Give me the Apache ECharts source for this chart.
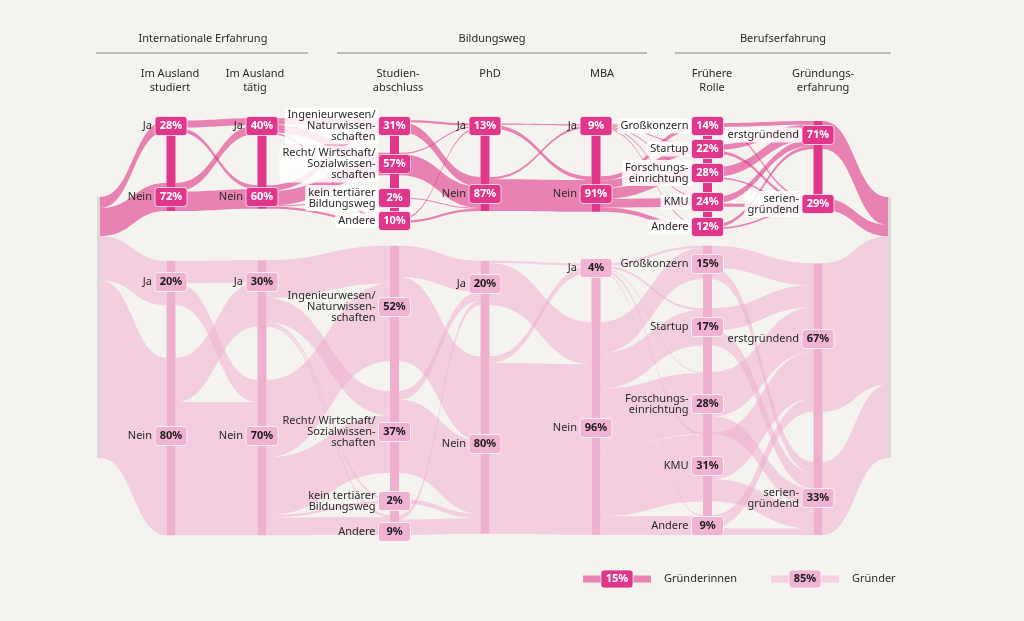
<!DOCTYPE html>
<html><head><meta charset="utf-8">
<script src="https://cdn.jsdelivr.net/npm/echarts@6/dist/echarts.min.js"></script>
<style>html,body{margin:0;padding:0;background:#f5f3f0}#c{width:1024px;height:621px}</style>
</head><body><div id="c"></div>
<script>
// ---------------- DATA ----------------
const groups = ['Gründerinnen', 'Gründer'];
const groupShare = [15, 85];
const groupHeaders = ['Internationale Erfahrung', 'Bildungsweg', 'Berufserfahrung'];
const columnTitles = ['Im Ausland\nstudiert', 'Im Ausland\ntätig', 'Studien-\nabschluss', 'PhD', 'MBA', 'Frühere\nRolle', 'Gründungs-\nerfahrung'];
const categories = [
  ['Ja', 'Nein'],
  ['Ja', 'Nein'],
  ['Ingenieurwesen/\nNaturwissen-\nschaften', 'Recht/ Wirtschaft/\nSozialwissen-\nschaften', 'kein tertiärer\nBildungsweg', 'Andere'],
  ['Ja', 'Nein'],
  ['Ja', 'Nein'],
  ['Großkonzern', 'Startup', 'Forschungs-\neinrichtung', 'KMU', 'Andere'],
  ['erstgründend', 'serien-\ngründend']
];
// shares (% within group) per column
const womenShares = [[28, 72], [40, 60], [31, 57, 2, 10], [13, 87], [9, 91], [14, 22, 28, 24, 12], [71, 29]];
const menShares   = [[20, 80], [30, 70], [52, 37, 2, 9], [20, 80], [4, 96], [15, 17, 28, 31, 9], [67, 33]];
// flows between adjacent columns (% within group), [from][to]
const womenFlows = [
  [[18, 10], [22, 50]],
  [[16, 20, 0, 4], [15, 37, 2, 6]],
  [[6, 25], [3, 54], [0, 2], [4, 6]],
  [[3, 10], [6, 81]],
  [[3, 2, 1, 2, 1], [11, 20, 27, 22, 11]],
  [[9, 5], [14, 8], [24, 4], [16, 8], [8, 4]]
];
const menFlows = [
  [[10, 10], [20, 60]],
  [[17, 11, 1, 1], [35, 26, 1, 8]],
  [[14, 38], [4, 33], [0, 2], [2, 7]],
  [[1, 19], [3, 77]],
  [[1, 1, 0.5, 1, 0.5], [14, 16, 27.5, 30, 8.5]],
  [[10, 5], [10, 7], [20, 8], [21, 10], [6, 3]]
];

// ---------------- LAYOUT (positions / styles) ----------------
const LAYOUT = {
  W: 1024, top: 197, height: 261,
  rootX: 97, endX: 888, greyW: 3, barW: 9,
  colX: [171, 262, 394.5, 485, 596, 707.5, 818],
  titleX: [170, 255, 398, 490, 602, 712, 823],
  nodeY: [
    [[126, 197], [126, 197], [126, 164, 198, 221], [126, 194], [126, 194], [126, 149, 173, 202, 227], [135, 204]],
    [[283, 446.5], [293.5, 457.5], [303.5, 432, 501, 525], [283, 445], [268, 428.5], [262.5, 327, 403, 467, 525], [337.5, 498.5]]
  ],
  labelY: [
    [[126, 197], [126, 197], [126, 164, 198, 221], [126, 194], [126, 194], [126, 149, 173, 202, 227], [135, 204]],
    [[282, 436], [282, 436], [307, 432, 501, 532], [284, 444], [268, 428], [264, 327, 404, 466, 526], [339, 498]]
  ]
};
const STYLE = {
  bg: '#f5f3f0', font: '"Noto Sans", sans-serif', text: '#2a2a2a',
  link: ['#e0378b', '#efafcf'], linkOpacity: [0.6, 0.55],
  bar: ['#e0378b', '#efb0d0'], box: ['#e0378b', '#f1b3d3'], boxText: ['#ffffff', '#1c1c1c'],
  grey: '#d8dbd8', legendBand: ['#e984b5', '#f6d0e1']
};

const shares = [womenShares, menShares];
const flows = [womenFlows, menFlows];
const pxPerPct = LAYOUT.height / 100;
function nodeH(g, c, i) { return shares[g][c][i] * groupShare[g] / 100 * pxPerPct; }
function nid(g, c, i) { return 'g' + g + 'c' + c + 'i' + i; }

// ---------------- SANKEY ----------------
const nodes = [];
nodes.push({ name: 'root', localX: (LAYOUT.rootX + LAYOUT.greyW - LAYOUT.barW) / LAYOUT.W, localY: 0, itemStyle: { opacity: 0 } });
for (let c = 0; c < columnTitles.length; c++) {
  for (let g = 0; g < 2; g++) {
    shares[g][c].forEach((v, i) => {
      const h = nodeH(g, c, i);
      nodes.push({
        name: nid(g, c, i),
        localX: (LAYOUT.colX[c] - LAYOUT.barW / 2) / LAYOUT.W,
        localY: (LAYOUT.nodeY[g][c][i] - h / 2 - LAYOUT.top) / LAYOUT.height,
        itemStyle: { opacity: 0 }
      });
    });
  }
}
nodes.push({ name: 'end', localX: LAYOUT.endX / LAYOUT.W, localY: 0, itemStyle: { opacity: 0 } });

const links = [];
function ls(g) { return { color: STYLE.link[g], opacity: STYLE.linkOpacity[g], curveness: 0.5 }; }
for (let g = 0; g < 2; g++) {
  shares[g][0].forEach((v, i) => links.push({ source: 'root', target: nid(g, 0, i), value: v * groupShare[g] / 100, lineStyle: ls(g) }));
  flows[g].forEach((m, c) => m.forEach((row, i) => row.forEach((v, j) => {
    if (v > 0) links.push({ source: nid(g, c, i), target: nid(g, c + 1, j), value: v * groupShare[g] / 100, lineStyle: ls(g) });
  })));
  shares[g][6].forEach((v, i) => links.push({ source: nid(g, 6, i), target: 'end', value: v * groupShare[g] / 100, lineStyle: ls(g) }));
}

// ---------------- BARS & LABELS (custom series) ----------------
const barData = [];
barData.push([LAYOUT.rootX + LAYOUT.greyW / 2, LAYOUT.top, LAYOUT.top + LAYOUT.height, 2]);
barData.push([LAYOUT.endX + LAYOUT.greyW / 2, LAYOUT.top, LAYOUT.top + LAYOUT.height, 2]);
for (let g = 0; g < 2; g++) for (let c = 0; c < columnTitles.length; c++) {
  const n = shares[g][c].length;
  const y0 = LAYOUT.nodeY[g][c][0] - nodeH(g, c, 0) / 2;
  const y1 = LAYOUT.nodeY[g][c][n - 1] + nodeH(g, c, n - 1) / 2;
  barData.push([LAYOUT.colX[c], y0, y1, g]);
}
const labelData = [], labelMeta = [];
for (let g = 0; g < 2; g++) for (let c = 0; c < columnTitles.length; c++) {
  shares[g][c].forEach((v, i) => {
    labelData.push([LAYOUT.colX[c], LAYOUT.labelY[g][c][i]]);
    labelMeta.push({ g, c, name: categories[c][i], pct: v + '%' });
  });
}

const graphic = [];
const hdr = [[203, 96, 308], [492, 337, 647], [783, 675, 891]];
groupHeaders.forEach((t, k) => {
  graphic.push({ type: 'text', x: hdr[k][0], y: 39, style: { text: t, font: '11px ' + STYLE.font, fill: STYLE.text, align: 'center', verticalAlign: 'middle' } });
  graphic.push({ type: 'line', shape: { x1: hdr[k][1], y1: 53, x2: hdr[k][2], y2: 53 }, style: { stroke: '#8a8a8a', lineWidth: 1 } });
});
columnTitles.forEach((t, c) => {
  graphic.push({ type: 'text', x: LAYOUT.titleX[c], y: 67, style: { text: t, font: '11px ' + STYLE.font, fill: STYLE.text, align: 'center', verticalAlign: 'top', lineHeight: 14 } });
});
const legX = [583, 771], legTextX = [664, 852];
groups.forEach((name, g) => {
  graphic.push({ type: 'rect', shape: { x: legX[g], y: 575.5, width: 68, height: 7 }, style: { fill: STYLE.legendBand[g] } });
  graphic.push({ type: 'rect', shape: { x: legX[g] + 18, y: 570, width: 32, height: 18, r: 3 }, style: { fill: STYLE.box[g], stroke: 'rgba(255,255,255,0.7)', lineWidth: 1 } });
  graphic.push({ type: 'text', x: legX[g] + 34, y: 579, style: { text: groupShare[g] + '%', font: 'bold 11px ' + STYLE.font, fill: STYLE.boxText[g], align: 'center', verticalAlign: 'middle' } });
  graphic.push({ type: 'text', x: legTextX[g], y: 579, style: { text: name, font: '11px ' + STYLE.font, fill: STYLE.text, align: 'left', verticalAlign: 'middle' } });
});

const chart = echarts.init(document.getElementById('c'));
chart.setOption({
  backgroundColor: STYLE.bg,
  animation: false,
  grid: { left: 0, right: 0, top: 0, bottom: 0 },
  xAxis: { type: 'value', min: 0, max: 1024, show: false },
  yAxis: { type: 'value', min: 0, max: 621, inverse: true, show: false },
  graphic: graphic,
  series: [
    {
      type: 'sankey', z: 2,
      left: 0, top: LAYOUT.top, width: LAYOUT.W, height: LAYOUT.height,
      nodeWidth: LAYOUT.barW, nodeGap: 0, layoutIterations: 0, draggable: false,
      label: { show: false }, emphasis: { disabled: true },
      data: nodes, links: links
    },
    {
      type: 'custom', z: 3, silent: true, clip: false,
      data: barData,
      renderItem: function (params, api) {
        const d = barData[params.dataIndex];
        const p0 = api.coord([d[0], d[1]]), p1 = api.coord([d[0], d[2]]);
        const w = d[3] === 2 ? LAYOUT.greyW : LAYOUT.barW;
        const fill = d[3] === 2 ? STYLE.grey : STYLE.bar[d[3]];
        return { type: 'rect', shape: { x: p0[0] - w / 2, y: p0[1], width: w, height: p1[1] - p0[1] }, style: { fill: fill } };
      }
    },
    {
      type: 'custom', z: 4, silent: true, clip: false,
      data: labelData,
      renderItem: function (params, api) {
        const m = labelMeta[params.dataIndex];
        const p = api.coord([api.value(0), api.value(1)]);
        const bw = 32, bh = 19;
        const withBg = m.g === 0 && (m.c === 2 || m.c === 5 || m.c === 6);
        const nameStyle = { text: m.name, font: '11px ' + STYLE.font, fill: STYLE.text, align: 'right', verticalAlign: 'middle', lineHeight: 11 };
        if (withBg) { nameStyle.backgroundColor = 'rgba(255,255,255,0.85)'; nameStyle.padding = [2, 3, 2, 3]; nameStyle.borderRadius = 2; }
        return {
          type: 'group',
          children: [
            { type: 'text', x: p[0] - bw / 2 - (withBg ? 0 : 3), y: p[1], style: nameStyle },
            { type: 'rect', shape: { x: p[0] - bw / 2, y: p[1] - bh / 2, width: bw, height: bh, r: 3 }, style: { fill: STYLE.box[m.g], stroke: 'rgba(255,255,255,0.7)', lineWidth: 1 } },
            { type: 'text', x: p[0], y: p[1], style: { text: m.pct, font: 'bold 11px ' + STYLE.font, fill: STYLE.boxText[m.g], align: 'center', verticalAlign: 'middle' } }
          ]
        };
      }
    }
  ]
});
</script>
</body></html>
